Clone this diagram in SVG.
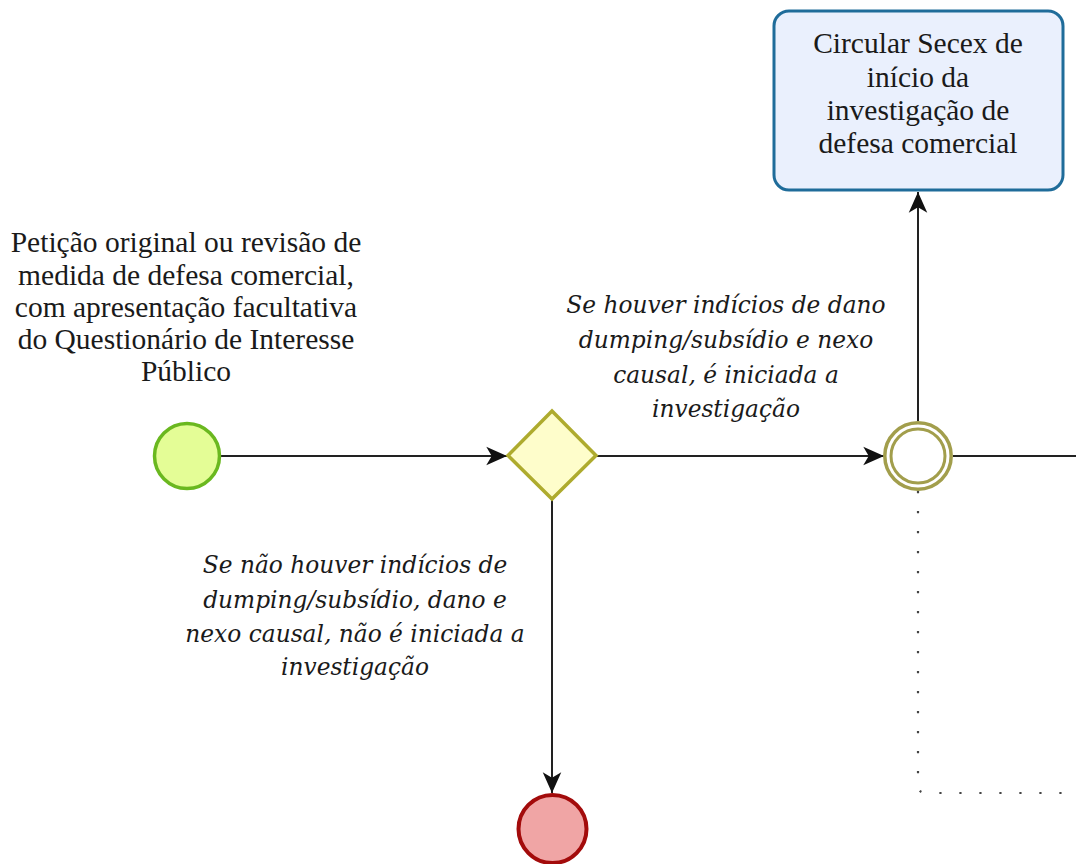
<svg xmlns="http://www.w3.org/2000/svg" width="1076" height="864" viewBox="0 0 1076 864">
<style>
.lbl{font-family:"Liberation Serif","Times New Roman",serif;font-size:29.5px;fill:#1a1a1a;text-anchor:middle}
.cond{font-family:"DejaVu Serif",serif;font-style:italic;font-size:23.3px;fill:#1a1a1a;text-anchor:middle}
.flow{fill:none;stroke:#222;stroke-width:2}
.assoc{fill:none;stroke:#444;stroke-width:2.2;stroke-dasharray:2.2 17.8;stroke-linecap:butt}
</style>
<defs>
<marker id="arr" markerUnits="userSpaceOnUse" markerWidth="24" markerHeight="24" viewBox="-20 -10 22 20" refX="0" refY="0" orient="auto">
<path d="M0,0 L-19,-8.5 L-14,0 L-19,8.5 Z" fill="#111"/>
</marker>
</defs>
<g id="connectors">
<line class="flow" x1="219" y1="456" x2="507" y2="456" marker-end="url(#arr)"/>
<line class="flow" x1="597" y1="456" x2="884" y2="456" marker-end="url(#arr)"/>
<line class="flow" x1="552" y1="500" x2="552" y2="793" marker-end="url(#arr)"/>
<line class="flow" x1="918" y1="421" x2="918" y2="192" marker-end="url(#arr)"/>
<line class="flow" x1="953" y1="456" x2="1076" y2="456"/>
<path class="assoc" d="M918 491 L918 785 Q918 793 926 793 L1076 793"/>
</g>
<g id="start">
<circle cx="187" cy="456" r="32.5" fill="#e4fd96" stroke="#6ab81f" stroke-width="3.5"/>
<text class="lbl" x="186" y="252">Petição original ou revisão de</text>
<text class="lbl" x="186" y="284.5">medida de defesa comercial,</text>
<text class="lbl" x="186" y="316.5">com apresentação facultativa</text>
<text class="lbl" x="186" y="349">do Questionário de Interesse</text>
<text class="lbl" x="186" y="381">Público</text>
</g>
<g id="gateway">
<polygon points="552,411 596,455.5 552,499 508,455.5" fill="#fefdcb" stroke="#aeab2e" stroke-width="3.5"/>
</g>
<g id="intermediate">
<circle cx="918" cy="456" r="33.2" fill="#fff" stroke="#a29e4c" stroke-width="3.5"/>
<circle cx="918" cy="456" r="27" fill="#fff" stroke="#a29e4c" stroke-width="3"/>
</g>
<g id="end">
<circle cx="552.5" cy="829" r="34" fill="#f0a5a5" stroke="#a30b0b" stroke-width="4"/>
</g>
<g id="task">
<rect x="774" y="11" width="289" height="179" rx="15" ry="15" fill="#eaf0fd" stroke="#1f6c9a" stroke-width="3"/>
<text class="lbl" x="918" y="53">Circular Secex de</text>
<text class="lbl" x="918" y="86.5">início da</text>
<text class="lbl" x="918" y="120">investigação de</text>
<text class="lbl" x="918" y="153">defesa comercial</text>
</g>
<g id="label-yes">
<text class="cond" x="726" y="313">Se houver indícios de dano</text>
<text class="cond" x="726" y="348">dumping/subsídio e nexo</text>
<text class="cond" x="726" y="383">causal, é iniciada a</text>
<text class="cond" x="726" y="417">investigação</text>
</g>
<g id="label-no">
<text class="cond" x="355" y="573">Se não houver indícios de</text>
<text class="cond" x="355" y="608">dumping/subsídio, dano e</text>
<text class="cond" x="355" y="642">nexo causal, não é iniciada a</text>
<text class="cond" x="355" y="675">investigação</text>
</g>
</svg>
